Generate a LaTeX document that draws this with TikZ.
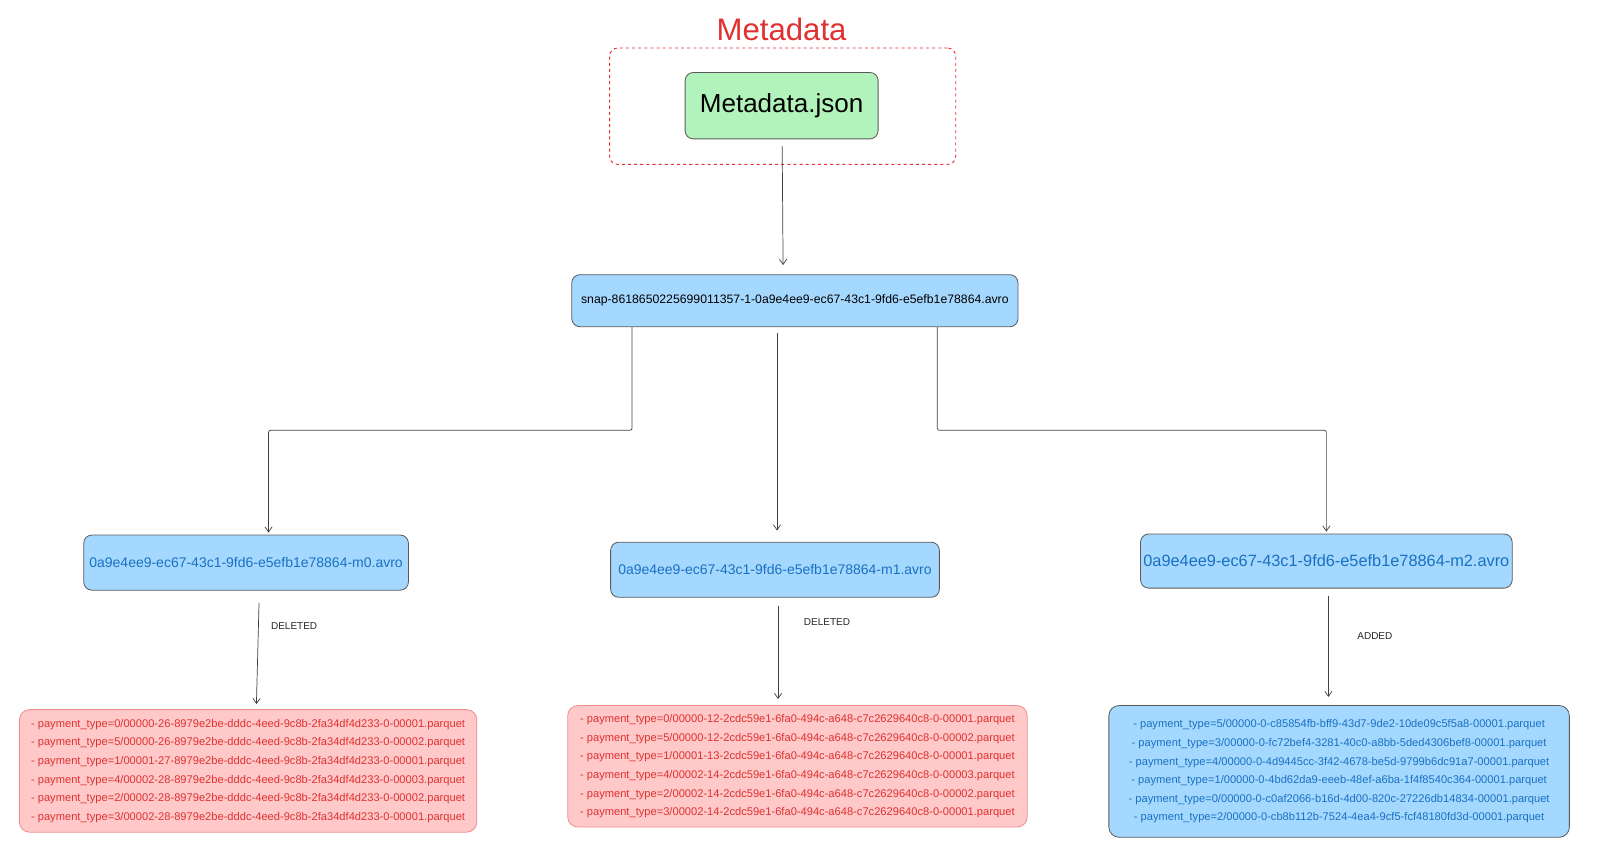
\documentclass[tikz,border=0pt]{standalone}
\usepackage{fontspec}
\setmainfont{Liberation Sans}
\usetikzlibrary{positioning,arrows.meta}
\definecolor{boxgreen}{HTML}{B2F2BB}
\definecolor{boxblue}{HTML}{A5D8FF}
\definecolor{boxred}{HTML}{FFC9C9}
\definecolor{txtred}{HTML}{E03131}
\definecolor{txtblue}{HTML}{1971C2}
\definecolor{edgegray}{HTML}{5A5A5A}
\tikzset{
  file/.style={draw=edgegray, line width=0.8pt, rounded corners=8pt, align=center, inner sep=0pt},
  manifest/.style={file, fill=boxblue, text=txtblue},
  filelist/.style={file, rounded corners=10pt, minimum width=448pt, minimum height=120pt,
    font=\fontsize{10.9}{18.2}\selectfont},
  deleted/.style={filelist, draw=txtred!55, fill=boxred, text=txtred},
  added/.style={filelist, fill=boxblue, text=txtblue, minimum width=451pt, minimum height=129pt},
  tag/.style={font=\fontsize{9.8}{11}\selectfont, text=black!85, inner sep=0pt},
  link/.style={draw=black!75, line width=0.7pt, ->, >={Straight Barb[length=5pt,width=7pt]}}
}
\begin{document}
\begin{tikzpicture}[x=1pt, y=-1pt, node distance=2cm, on grid]
\useasboundingbox (0,0) rectangle (1567,834.5);
% metadata file
\node[draw=txtred, dashed, line width=0.9pt, rounded corners=8pt, minimum width=339pt, minimum height=114pt] (metabox) at (766.5,104) {};
\node[file, fill=boxgreen, minimum width=189pt, minimum height=65pt, font=\fontsize{25.5}{29}\selectfont] (meta) at (765.5,103.5) {Metadata.json};
\node[text=txtred, font=\fontsize{30.5}{34}\selectfont] (title) [above=75pt of meta] {Metadata};
% snapshot and manifests
\node[file, fill=boxblue, minimum width=437pt, minimum height=51pt, font=\fontsize{12}{14}\selectfont] (snap) [below=191pt of meta, xshift=13pt] {snap-8618650225699011357-1-0a9e4ee9-ec67-43c1-9fd6-e5efb1e78864.avro};
\node[manifest, minimum width=318pt, minimum height=54pt, font=\fontsize{13.7}{16}\selectfont] (m0) at (241,551) {0a9e4ee9-ec67-43c1-9fd6-e5efb1e78864-m0.avro};
\node[manifest, minimum width=322pt, minimum height=54pt, font=\fontsize{13.7}{16}\selectfont] (m1) at (759,558) {0a9e4ee9-ec67-43c1-9fd6-e5efb1e78864-m1.avro};
\node[manifest, minimum width=364pt, minimum height=53pt, font=\fontsize{16}{18}\selectfont] (m2) at (1299,549.5) {0a9e4ee9-ec67-43c1-9fd6-e5efb1e78864-m2.avro};
% data files
\node[deleted] (list0) [below=204pt of m0, xshift=2pt] {%
- payment\_type=0/00000-26-8979e2be-dddc-4eed-9c8b-2fa34df4d233-0-00001.parquet\\
- payment\_type=5/00000-26-8979e2be-dddc-4eed-9c8b-2fa34df4d233-0-00002.parquet\\
- payment\_type=1/00001-27-8979e2be-dddc-4eed-9c8b-2fa34df4d233-0-00001.parquet\\
- payment\_type=4/00002-28-8979e2be-dddc-4eed-9c8b-2fa34df4d233-0-00003.parquet\\
- payment\_type=2/00002-28-8979e2be-dddc-4eed-9c8b-2fa34df4d233-0-00002.parquet\\
- payment\_type=3/00002-28-8979e2be-dddc-4eed-9c8b-2fa34df4d233-0-00001.parquet};
\node[deleted, minimum width=450pt, minimum height=119pt] (list1) [below=192.5pt of m1, xshift=22pt] {%
- payment\_type=0/00000-12-2cdc59e1-6fa0-494c-a648-c7c2629640c8-0-00001.parquet\\
- payment\_type=5/00000-12-2cdc59e1-6fa0-494c-a648-c7c2629640c8-0-00002.parquet\\
- payment\_type=1/00001-13-2cdc59e1-6fa0-494c-a648-c7c2629640c8-0-00001.parquet\\
- payment\_type=4/00002-14-2cdc59e1-6fa0-494c-a648-c7c2629640c8-0-00003.parquet\\
- payment\_type=2/00002-14-2cdc59e1-6fa0-494c-a648-c7c2629640c8-0-00002.parquet\\
- payment\_type=3/00002-14-2cdc59e1-6fa0-494c-a648-c7c2629640c8-0-00001.parquet};
\node[added] (list2) [below=206pt of m2, xshift=12.5pt] {%
- payment\_type=5/00000-0-c85854fb-bff9-43d7-9de2-10de09c5f5a8-00001.parquet\\
- payment\_type=3/00000-0-fc72bef4-3281-40c0-a8bb-5ded4306bef8-00001.parquet\\
- payment\_type=4/00000-0-4d9445cc-3f42-4678-be5d-9799b6dc91a7-00001.parquet\\
- payment\_type=1/00000-0-4bd62da9-eeeb-48ef-a6ba-1f4f8540c364-00001.parquet\\
- payment\_type=0/00000-0-c0af2066-b16d-4d00-820c-27226db14834-00001.parquet\\
- payment\_type=2/00000-0-cb8b112b-7524-4ea4-9cf5-fcf48180fd3d-00001.parquet};
% connectors
\path
  ([xshift=0.5pt]meta.south) edge[link, shorten <=7pt, shorten >=9pt] ([xshift=-11.5pt]snap.north)
  ([xshift=-17.5pt]snap.south) edge[link, shorten <=6pt, shorten >=11pt] ([xshift=2pt]m1.north);
\draw[link, rounded corners=2pt, shorten >=2pt] ([xshift=-159.5pt]snap.south) -- ++(0,101) -| ([xshift=22pt]m0.north);
\draw[link, rounded corners=2pt, shorten >=2pt] ([xshift=139.5pt]snap.south) -- ++(0,101) -| (m2.north);
\path
  ([xshift=13pt]m0.south) edge[link, shorten <=12pt, shorten >=5pt] node[tag, pos=0.3, right=12pt] {DELETED} ([xshift=8pt]list0.north)
  ([xshift=3pt]m1.south) edge[link, shorten <=8pt, shorten >=6pt] node[tag, pos=0.23, right=25pt] {DELETED} ([xshift=-19pt]list1.north)
  ([xshift=2pt]m2.south) edge[link, shorten <=7pt, shorten >=8pt] node[tag, pos=0.41, right=28pt] {ADDED} ([xshift=-10.5pt]list2.north);
\end{tikzpicture}
\end{document}
